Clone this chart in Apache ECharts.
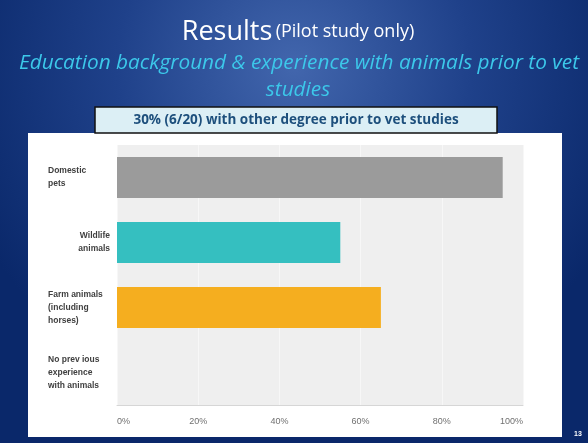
<!DOCTYPE html>
<html><head><meta charset="utf-8">
<script src="https://cdn.jsdelivr.net/npm/echarts@6/dist/echarts.min.js"></script>
<style>html,body{margin:0;padding:0;background:#0b2a6b;}#c{width:588px;height:443px;}</style>
</head><body><div id="c"></div>
<script>
const categories = ['Domestic\npets', 'Wildlife\nanimals', 'Farm animals\n(including\nhorses)', 'No prev ious\nexperience\nwith animals'];
const labelAlign = ['left', 'right', 'left', 'left'];
const values = [95, 55, 65, 0];
const barColors = ['#9b9b9b', '#35bfc0', '#f5ae1f', '#cccccc'];
const tickValues = [0, 20, 40, 60, 80, 100];

const chart = echarts.init(document.getElementById('c'));
const font = '"Liberation Sans", Arial, sans-serif';
const titleFont = '"Open Sans", "Noto Sans", sans-serif';

chart.setOption({
  animation: false,
  graphic: [
    { type: 'rect', z: -10, shape: { x: 0, y: 0, width: 588, height: 443 },
      style: { fill: { type: 'radial', x: 0.5, y: 0.15, r: 0.8,
        colorStops: [{ offset: 0, color: '#4266ad' }, { offset: 0.5, color: '#1f418a' }, { offset: 1, color: '#0a286a' }] } } },
    { type: 'rect', z: -5, shape: { x: 28, y: 133, width: 534, height: 304 }, style: { fill: '#ffffff' } },
    { type: 'rect', z: 5, shape: { x: 95, y: 107, width: 402, height: 26 },
      style: { fill: '#dceff5', stroke: '#111', lineWidth: 1.5 } },
    { type: 'text', z: 6, x: 296, y: 120,
      style: { text: '30% (6/20) with other degree prior to vet studies', fill: '#1d4f7c',
        font: 'bold 13.5px ' + titleFont, align: 'center', verticalAlign: 'middle' } },
    { type: 'text', z: 6, x: 298, y: 32,
      style: { text: '{a|Results} {b|(Pilot study only)}', align: 'center', verticalAlign: 'middle',
        rich: { a: { fontSize: 27, fill: '#ffffff', color: '#ffffff', fontFamily: titleFont },
                b: { fontSize: 18, fill: '#ffffff', color: '#ffffff', fontFamily: titleFont } } } },
    { type: 'text', z: 6, x: 299, y: 63,
      style: { text: 'Education background & experience with animals prior to vet', fill: '#3cc8ea',
        font: 'italic 20.8px ' + titleFont, align: 'center', verticalAlign: 'middle' } },
    { type: 'text', z: 6, x: 298, y: 90,
      style: { text: 'studies', fill: '#3cc8ea',
        font: 'italic 20.8px ' + titleFont, align: 'center', verticalAlign: 'middle' } },
    { type: 'text', z: 6, x: 578, y: 434,
      style: { text: '13', fill: '#ffffff', font: 'bold 7px ' + font, align: 'center', verticalAlign: 'middle' } }
  ],
  grid: { left: 117, right: 65, top: 145, bottom: 38, show: true, backgroundColor: '#efefef', borderWidth: 0 },
  xAxis: {
    type: 'value', min: 0, max: 100, interval: 20,
    axisLine: { show: true, lineStyle: { color: '#d6d6d6' } },
    axisTick: { show: false },
    splitLine: { show: true, lineStyle: { color: '#f7f7f7', width: 1 } },
    axisLabel: { color: '#707070', fontSize: 9, fontFamily: font, margin: 12,
      alignMinLabel: 'left', alignMaxLabel: 'right',
      formatter: v => tickValues.includes(v) ? v + '%' : '' }
  },
  yAxis: {
    type: 'category', inverse: true,
    data: categories.map((c, i) => ({ value: c })),
    axisLine: { show: false }, axisTick: { show: false },
    axisLabel: {
      margin: 7, align: 'right', lineHeight: 13,
      formatter: (v) => {
        const i = categories.indexOf(v);
        const key = labelAlign[i] === 'left' ? 'l' : 'r';
        return v.split('\n').map(s => '{' + key + '|' + s + '}').join('\n');
      },
      rich: {
        l: { width: 62, align: 'left', fontSize: 8.5, fontWeight: 'bold', color: '#404040', fontFamily: font, lineHeight: 13 },
        r: { width: 62, align: 'right', fontSize: 8.5, fontWeight: 'bold', color: '#404040', fontFamily: font, lineHeight: 13 }
      }
    }
  },
  series: [{
    type: 'bar', barWidth: 41,
    data: values.map((v, i) => ({ value: v, itemStyle: { color: barColors[i] } }))
  }]
});
</script></body></html>
